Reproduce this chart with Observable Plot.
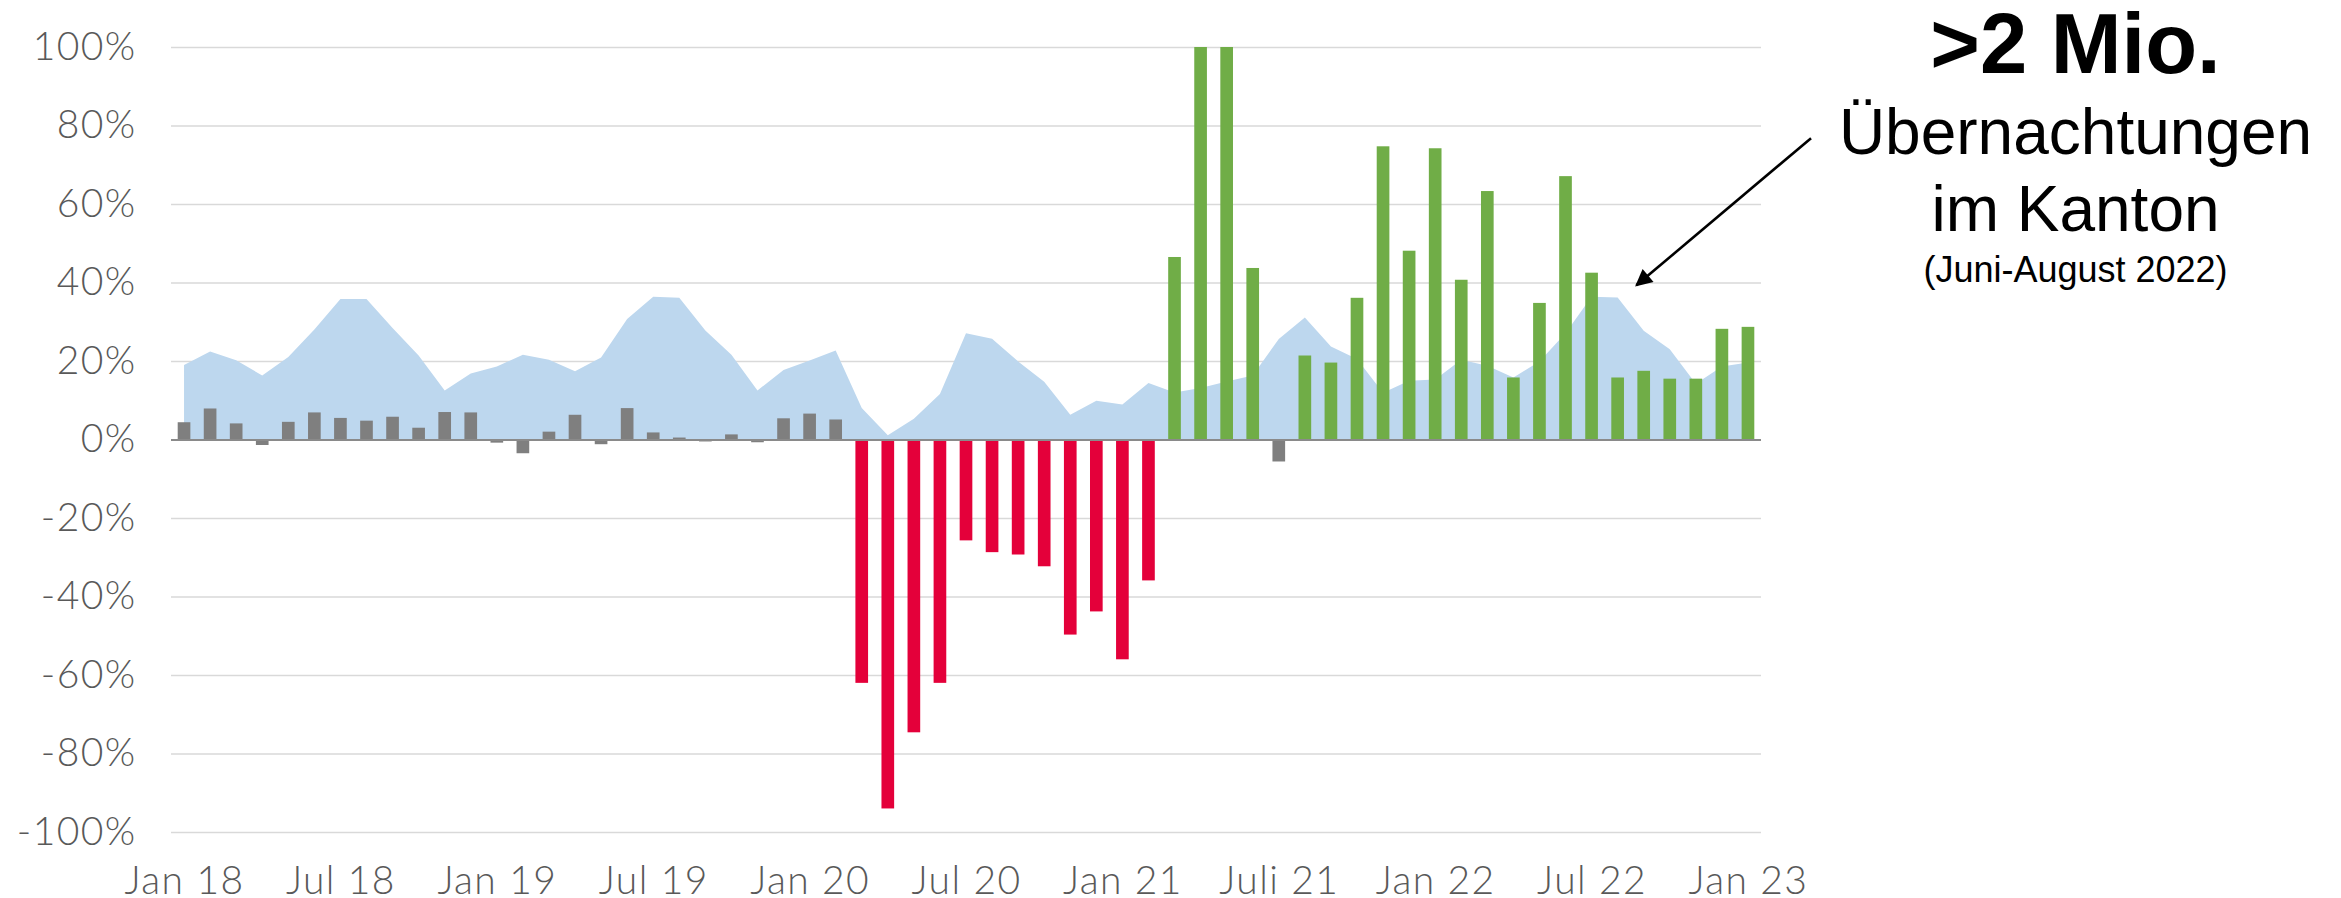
<!DOCTYPE html>
<html>
<head>
<meta charset="utf-8">
<script src="https://cdn.jsdelivr.net/npm/d3@7"></script>
<script src="https://cdn.jsdelivr.net/npm/@observablehq/plot@0.6"></script>
<style>
  html, body { margin: 0; padding: 0; background: #fff; }
  #chart svg { display: block; }
  #chart g[aria-label="x-axis tick label"] text,
  #chart g[aria-label="y-axis tick label"] text { letter-spacing: 1.4px; }
</style>
</head>
<body>
<div id="chart"></div>
<script>
// ---- data (monthly, Jan 2018 – Jan 2023) ----
const months = d3.utcMonth.range(new Date(Date.UTC(2018, 0, 1)), new Date(Date.UTC(2023, 1, 1)));

// change vs. previous year, in %
const change = [
  4.4, 7.9, 4.1, -1.4, 4.5, 6.9, 5.5, 4.8, 5.8, 3.0, 7.0, 6.9,
  -0.8, -3.5, 2.0, 6.3, -1.2, 8.0, 1.8, 0.5, -0.5, 1.3, -0.7, 5.4,
  6.6, 5.1, -62.0, -94.0, -74.6, -62.0, -25.7, -28.7, -29.3, -32.3, -49.7, -43.8,
  -56.0, -35.9, 46.5, 100, 100, 43.7, -5.6, 21.4, 19.6, 36.1, 74.7, 48.1,
  74.2, 40.7, 63.3, 15.8, 34.8, 67.1, 42.5, 15.8, 17.5, 15.5, 15.5, 28.2,
  28.7
];

// background profile (light blue area), in %
const profile = [
  19.0, 22.4, 20.2, 16.3, 21.0, 28.0, 35.8, 35.8, 28.4, 21.4, 12.5, 16.8,
  18.6, 21.6, 20.3, 17.4, 20.9, 30.7, 36.4, 36.1, 27.8, 21.6, 12.5, 17.7,
  20.1, 22.7, 8.0, 1.1, 5.3, 11.6, 27.1, 25.7, 19.9, 14.7, 6.3, 9.9,
  8.9, 14.4, 12.0, 13.1, 14.8, 16.3, 25.6, 31.1, 23.7, 20.5, 11.9, 15.0,
  15.3, 20.3, 18.8, 15.8, 19.9, 27.1, 36.4, 36.2, 27.7, 23.0, 14.2, 18.6,
  19.6
];

const tickPositions = [0, 6, 12, 18, 24, 30, 36, 42, 48, 54, 60];
const tickLabels = ["Jan 18", "Jul 18", "Jan 19", "Jul 19", "Jan 20", "Jul 20", "Jan 21", "Juli 21", "Jan 22", "Jul 22", "Jan 23"];
const yTicks = [-100, -80, -60, -40, -20, 0, 20, 40, 60, 80, 100];

const annotationLines = [">2 Mio.", "Übernachtungen", "im Kanton", "(Juni-August 2022)"];
const arrowLink = [{x1: 62.4, y1: 76.9, x2: 55.7, y2: 39.4}];

// ---- colours ----
const GRAY = "#7f7f7f", RED = "#e4003a", GREEN = "#70ad47", AREA = "#bdd7ee";
const pandemicStart = new Date(Date.UTC(2020, 2, 1));
const recoveryStart = new Date(Date.UTC(2021, 2, 1));

const data = months.map((m, i) => ({
  i, month: m, change: change[i], profile: profile[i],
  color: (m >= pandemicStart && m < recoveryStart) ? RED
       : (m >= recoveryStart && change[i] > 0) ? GREEN : GRAY
}));

const W = 2341, H = 898;
const mTop = 47, mBottom = 66, mLeft = 171, mRight = 580;
const frameRight = W - mRight;
const textCenterX = 2075;

function annot(line, size, weight, baseline) {
  return Plot.text([line], {
    text: d => d, frameAnchor: "top-right", dx: textCenterX - frameRight, dy: baseline - mTop,
    textAnchor: "middle", lineAnchor: "bottom", fontSize: size, fontWeight: weight,
    fontFamily: "Liberation Sans, Arial, sans-serif", fill: "#000"
  });
}

const chart = Plot.plot({
  width: W, height: H,
  marginTop: mTop, marginBottom: mBottom, marginLeft: mLeft, marginRight: mRight,
  style: { fontFamily: "Lato, sans-serif", fontWeight: 300, fontSize: "39px", color: "#595959", background: "#fff", overflow: "visible" },
  x: { type: "linear", domain: [-0.5, 60.5], ticks: tickPositions, tickFormat: (d) => tickLabels[tickPositions.indexOf(d)], tickSize: 0, tickPadding: 34, label: null },
  y: { domain: [-100, 100], ticks: yTicks, tickFormat: d => d + "%", tickSize: 0, tickPadding: 35, label: null },
  color: { type: "identity" },
  marks: [
    Plot.ruleY(yTicks.filter(d => d !== 0), { stroke: "#d9d9d9", strokeWidth: 1.6 }),
    Plot.areaY(data, { x: "i", y: "profile", fill: AREA }),
    Plot.rect(data, { x1: d => d.i - 0.5, x2: d => d.i + 0.5, y1: 0, y2: "change", insetLeft: 6.7, insetRight: 6.7, fill: "color" }),
    Plot.ruleY([0], { stroke: "#8a8a8a", strokeWidth: 2 }),
    Plot.link(arrowLink, { x1: "x1", y1: "y1", x2: "x2", y2: "y2", stroke: "#000", strokeWidth: 2.6 }),
    annot(annotationLines[0], 85, 700, 72),
    annot(annotationLines[1], 64, 400, 153),
    annot(annotationLines[2], 64, 400, 230),
    annot(annotationLines[3], 36, 400, 281)
  ]
});

// filled arrow head for the pointer line
const svg = d3.select(chart);
svg.append("defs").append("marker")
  .attr("id", "pointer-head")
  .attr("viewBox", "0 0 10 10")
  .attr("refX", 9).attr("refY", 5)
  .attr("markerUnits", "userSpaceOnUse")
  .attr("markerWidth", 20).attr("markerHeight", 17)
  .attr("orient", "auto")
  .append("path").attr("d", "M0,0 L10,5 L0,10 Z").attr("fill", "#000");
svg.selectAll('g[aria-label="link"] path').attr("marker-end", "url(#pointer-head)");

document.getElementById("chart").appendChild(chart);
</script>
</body>
</html>
